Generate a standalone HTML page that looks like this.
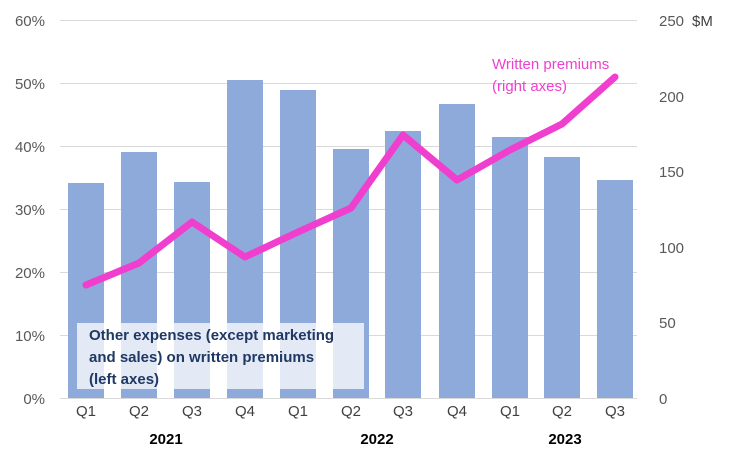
<!DOCTYPE html><html><head><style>body{margin:0;background:#fff}svg{display:block}text{font-family:"Liberation Sans",sans-serif}</style></head><body>
<svg width="730" height="461" viewBox="0 0 730 461">
<g stroke="#d9d9d9" stroke-width="1">
<line x1="60" y1="20.5" x2="637" y2="20.5"/><line x1="60" y1="83.5" x2="637" y2="83.5"/><line x1="60" y1="146.5" x2="637" y2="146.5"/><line x1="60" y1="209.5" x2="637" y2="209.5"/><line x1="60" y1="272.5" x2="637" y2="272.5"/><line x1="60" y1="335.5" x2="637" y2="335.5"/><line x1="60" y1="398.5" x2="637" y2="398.5"/>
</g>
<g fill="#8eaadb">
<rect x="68" y="183" width="36" height="215"/><rect x="121" y="152" width="36" height="246"/><rect x="174" y="182" width="36" height="216"/><rect x="227" y="80" width="36" height="318"/><rect x="280" y="90" width="36" height="308"/><rect x="333" y="149" width="36" height="249"/><rect x="385" y="131" width="36" height="267"/><rect x="439" y="104" width="36" height="294"/><rect x="492" y="137" width="36" height="261"/><rect x="544" y="157" width="36" height="241"/><rect x="597" y="180" width="36" height="218"/>
</g>
<polyline points="86,285 139,263 192,222 245,257 298,232 351,208 403,135 457,180 510,150 562,124 615,77" fill="none" stroke="#f03ecf" stroke-width="7" stroke-linejoin="round" stroke-linecap="round"/>
<g font-size="15" fill="#595959" text-anchor="end">
<text x="45" y="26">60%</text><text x="45" y="89">50%</text><text x="45" y="152">40%</text><text x="45" y="215">30%</text><text x="45" y="278">20%</text><text x="45" y="341">10%</text><text x="45" y="404">0%</text>
</g>
<g font-size="15" fill="#595959">
<text x="659" y="26">250</text><text x="659" y="102">200</text><text x="659" y="177">150</text><text x="659" y="253">100</text><text x="659" y="328">50</text><text x="659" y="404">0</text>
<text x="692" y="26" fill="#404040">$M</text>
</g>
<g font-size="15" fill="#404040" text-anchor="middle">
<text x="86" y="416">Q1</text><text x="139" y="416">Q2</text><text x="192" y="416">Q3</text><text x="245" y="416">Q4</text><text x="298" y="416">Q1</text><text x="351" y="416">Q2</text><text x="403" y="416">Q3</text><text x="457" y="416">Q4</text><text x="510" y="416">Q1</text><text x="562" y="416">Q2</text><text x="615" y="416">Q3</text>
</g>
<g font-size="15" font-weight="bold" fill="#000" text-anchor="middle">
<text x="166" y="444">2021</text><text x="377" y="444">2022</text><text x="565" y="444">2023</text>
</g>
<rect x="77" y="323" width="287" height="66" fill="#fff" fill-opacity="0.75"/>
<g font-size="15" font-weight="bold" fill="#203864">
<text x="89" y="340">Other expenses (except marketing</text><text x="89" y="362">and sales) on written premiums</text><text x="89" y="384">(left axes)</text>
</g>
<g font-size="15" fill="#f03ecf">
<text x="492" y="69">Written premiums</text><text x="492" y="91">(right  axes)</text>
</g>
</svg></body></html>
